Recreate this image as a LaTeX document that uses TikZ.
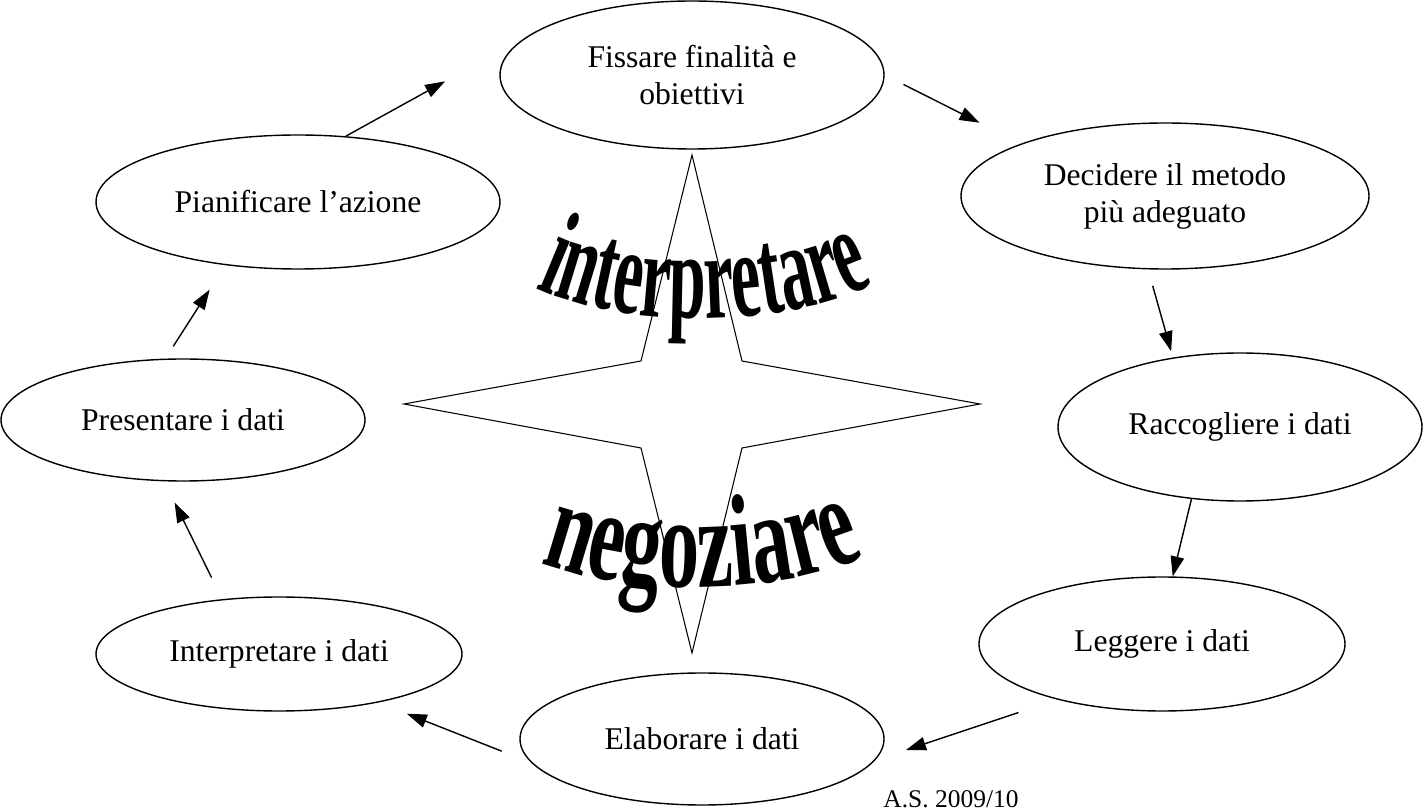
\documentclass[tikz,border=0pt]{standalone}
\usepackage{fontspec}
\setmainfont{Liberation Serif}
\newfontfamily\interfont{Liberation Serif}[FakeStretch=0.54]
\newfontfamily\negofont{Liberation Serif}[FakeStretch=0.62]
\newcommand\interstyle{\interfont\bfseries\fontsize{70}{70}\selectfont}
\newcommand\negostyle{\negofont\bfseries\fontsize{74}{74}\selectfont}
\usetikzlibrary{shapes.geometric,arrows.meta,decorations.text}

\begin{document}
\begin{tikzpicture}[x=0.02cm, y=-0.02cm,
    bubble/.style 2 args={ellipse, draw, line width=0.8pt, inner sep=0pt, align=center,
      minimum width=#1*0.02cm, minimum height=#2*0.02cm, font=\fontsize{18}{21}\selectfont},
    flow/.style={line width=0.8pt, -{Triangle[length=0.4cm, width=0.27cm]}}]
      \useasboundingbox (0,0) rectangle (1424,810);
      % star
      \draw[line width=0.6pt] (692,155) -- (742,361) -- (980,404) -- (742,448)
          -- (692,653) -- (641,448) -- (404,404) -- (641,361) -- cycle;
      % arched words
      \path[decorate, decoration={text along path, text align=center, text={|\interstyle|interpretare}}]
          (530,285) .. controls (620,330) and (780,330) .. (880,282);
      \path[decorate, decoration={text along path, text align=center, text={|\negostyle|negoziare}}]
          (530,558) .. controls (620,598) and (780,598) .. (875,552);

      % steps
      \node[bubble={384}{148}] (fiss) at (692,75)   {Fissare finalità e\\obiettivi};
      \node[bubble={408}{146}] (deci) at (1165,196) {Decidere il metodo\\più adeguato};
      \node[bubble={364}{148}] (racc) at (1240,427) {Raccogliere i dati};
      \node[bubble={366}{134}] (legg) at (1162,644) {Leggere i dati};
      \node[bubble={364}{132}] (elab) at (702,739)  {Elaborare i dati};
      \node[bubble={366}{114}] (inte) at (279,654)  {Interpretare i dati};
      \node[bubble={364}{122}] (pres) at (183,420)  {Presentare i dati};
      \node[bubble={404}{134}] (pian) at (298,202)  {Pianificare l'azione};

      \node[font=\fontsize{14.5}{16}\selectfont, anchor=base] (year) at (951,807) {A.S. 2009/10};

      % cycle
      \draw[flow, shorten >=2.02cm] (pian.54) -- (fiss.165);
      \draw[flow, shorten <=0.42cm, shorten >=0.93cm] (fiss.0) -- (deci.160);
      \draw[flow, shorten <=0.34cm, shorten >=0.13cm] (deci.257) -- (racc.134);
      \draw[flow] (racc.236) -- (legg.81);
      \draw[flow, shorten <=0.82cm, shorten >=0.65cm] (legg.208) -- (elab.353);
      \draw[flow, shorten <=0.64cm, shorten >=0.61cm] (elab.188) -- (inte.334);
      \draw[flow, shorten <=0.48cm, shorten >=0.47cm] (inte.136) -- (pres.253);
      \draw[flow, shorten <=0.29cm, shorten >=0.58cm] (pres.106) -- (pian.221);
\end{tikzpicture}
\end{document}
